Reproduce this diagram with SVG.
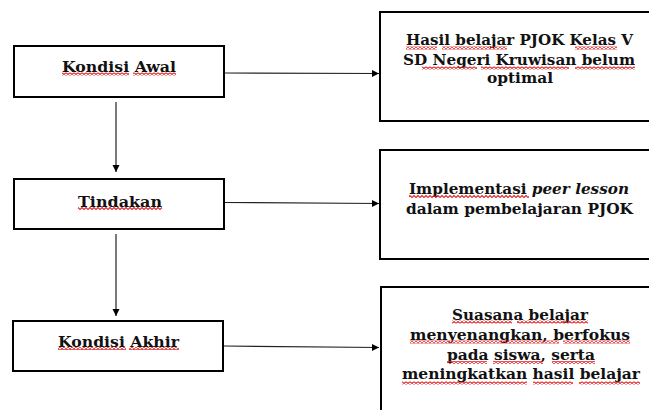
<svg xmlns="http://www.w3.org/2000/svg" width="649" height="410" viewBox="0 0 649 410">
<style>
.box{fill:#fff;stroke:#000;stroke-width:2}
.conn{stroke:#222;stroke-width:1.2;fill:none}
.t{font-family:"DejaVu Serif","Liberation Serif",serif;font-weight:bold;font-size:15.5px;fill:#111;text-anchor:middle}
.sq{fill:url(#wave)}
</style>
<defs>
<marker id="ah" markerWidth="8" markerHeight="8" refX="7" refY="4" orient="auto" markerUnits="userSpaceOnUse">
<path d="M0,0.5 L7,4 L0,7.5 Z" fill="#000"/>
</marker>
<pattern id="wave" width="4" height="3" patternUnits="userSpaceOnUse">
<path d="M-1,2 L0,2.5 L2,0.5 L4,2.5 L5,2" fill="none" stroke="#e01e1e" stroke-width="1.1"/>
</pattern>
</defs>
<rect width="649" height="410" fill="#fff"/>
<g id="connectors">
<line class="conn" x1="225" y1="73" x2="379" y2="73.5" marker-end="url(#ah)"/>
<line class="conn" x1="225" y1="202.5" x2="379" y2="203.5" marker-end="url(#ah)"/>
<line class="conn" x1="224" y1="346" x2="379" y2="347.5" marker-end="url(#ah)"/>
<line class="conn" x1="116" y1="102" x2="116" y2="172" marker-end="url(#ah)"/>
<line class="conn" x1="116" y1="234" x2="116" y2="316" marker-end="url(#ah)"/>
</g>
<g id="kondisi-awal">
<rect class="box" x="14" y="46" width="210" height="51"/>
<text class="t" x="119" y="72" textLength="114" lengthAdjust="spacingAndGlyphs">Kondisi Awal</text>
<rect class="sq" x="62" y="72.5" width="67" height="3"/>
<rect class="sq" x="133" y="72.5" width="43" height="3"/>
</g>
<g id="tindakan">
<rect class="box" x="14" y="179" width="210" height="50"/>
<text class="t" x="120" y="206.5" textLength="84" lengthAdjust="spacingAndGlyphs">Tindakan</text>
<rect class="sq" x="78" y="207" width="84" height="3"/>
</g>
<g id="kondisi-akhir">
<rect class="box" x="13" y="321" width="210" height="50"/>
<text class="t" x="118.5" y="346.5" textLength="121" lengthAdjust="spacingAndGlyphs">Kondisi Akhir</text>
<rect class="sq" x="58" y="347" width="68" height="3"/>
<rect class="sq" x="129" y="347" width="50" height="3"/>
</g>
<g id="hasil">
<rect class="box" x="380" y="12" width="290" height="109"/>
<text class="t" x="519.5" y="45" textLength="227" lengthAdjust="spacingAndGlyphs">Hasil belajar PJOK Kelas V</text>
<text class="t" x="519" y="65" textLength="232" lengthAdjust="spacingAndGlyphs">SD Negeri Kruwisan belum</text>
<text class="t" x="520" y="83" textLength="66" lengthAdjust="spacingAndGlyphs">optimal</text>
<rect class="sq" x="406" y="46.5" width="31" height="3"/>
<rect class="sq" x="442" y="46.5" width="65" height="3"/>
<rect class="sq" x="575" y="46.5" width="42" height="3"/>
<rect class="sq" x="422" y="66.5" width="55" height="3"/>
<rect class="sq" x="481" y="66.5" width="88" height="3"/>
<rect class="sq" x="575" y="66.5" width="60" height="3"/>
</g>
<g id="implementasi">
<rect class="box" x="380" y="150" width="290" height="109"/>
<text class="t" x="519" y="194" textLength="220" lengthAdjust="spacingAndGlyphs">Implementasi <tspan font-style="italic">peer lesson</tspan></text>
<text class="t" x="519.5" y="214" textLength="227" lengthAdjust="spacingAndGlyphs">dalam pembelajaran PJOK</text>
<rect class="sq" x="409" y="195" width="120" height="3"/>
</g>
<g id="suasana">
<rect class="box" x="381" y="287" width="290" height="140"/>
<text class="t" x="520" y="320" textLength="136" lengthAdjust="spacingAndGlyphs">Suasana belajar</text>
<text class="t" x="520" y="340" textLength="220" lengthAdjust="spacingAndGlyphs">menyenangkan, berfokus</text>
<text class="t" x="521" y="360" textLength="148" lengthAdjust="spacingAndGlyphs">pada siswa, serta</text>
<text class="t" x="521" y="379" textLength="238" lengthAdjust="spacingAndGlyphs">meningkatkan hasil belajar</text>
<rect class="sq" x="452" y="320.5" width="60" height="3"/>
<rect class="sq" x="517" y="320.5" width="71" height="3"/>
<rect class="sq" x="410" y="340.5" width="149" height="3"/>
<rect class="sq" x="563" y="340.5" width="67" height="3"/>
<rect class="sq" x="447" y="361" width="40" height="3"/>
<rect class="sq" x="493" y="361" width="50" height="3"/>
<rect class="sq" x="552" y="361" width="43" height="3"/>
<rect class="sq" x="402" y="381.5" width="125" height="3"/>
<rect class="sq" x="533" y="381.5" width="40" height="3"/>
<rect class="sq" x="579" y="381.5" width="61" height="3"/>
</g>
</svg>
